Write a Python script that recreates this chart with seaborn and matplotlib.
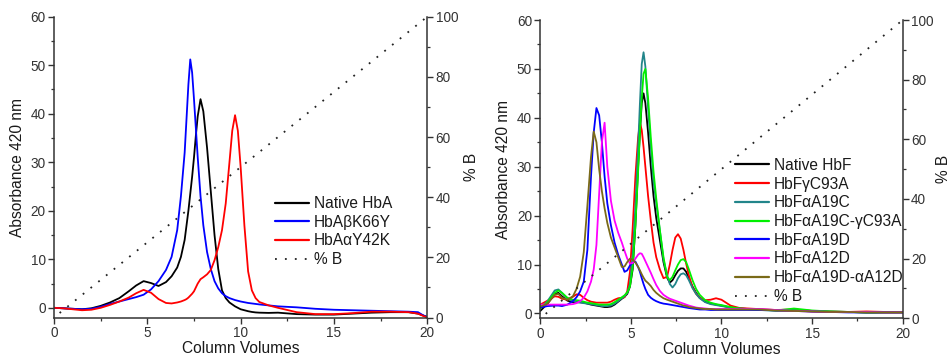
import numpy as np
import pandas as pd
import matplotlib
matplotlib.use("Agg")
import matplotlib.pyplot as plt
from matplotlib.ticker import MultipleLocator
from matplotlib.lines import Line2D
import seaborn as sns

# ---------------- data: left panel (HbA) ----------------
cv_left = [0, 0.5, 1, 1.5, 2, 2.5, 3, 3.5, 4, 4.4,
           4.8, 5.2, 5.6, 6, 6.3, 6.6, 6.8, 7.0, 7.1, 7.2,
           7.3, 7.4, 7.5, 7.6, 7.7, 7.85, 8.0, 8.2, 8.4, 8.6,
           8.8, 9.0, 9.2, 9.4, 9.55, 9.7, 9.85, 10.0, 10.2, 10.4,
           10.6, 10.8, 11, 11.5, 12, 13, 14, 15, 16, 17,
           18, 19, 19.5, 19.8, 20]
native_hba = [0, -0.1, -0.2, -0.3, -0.1, 0.4, 1.1, 2.0, 3.4, 4.6,
              5.5, 5.1, 4.5, 5.3, 6.5, 8.3, 10.5, 14, 17, 20,
              23.5, 27, 31, 35.5, 39.5, 43, 40.5, 33, 24, 15,
              8, 3.6, 2.0, 1.1, 0.7, 0.3, 0, -0.3, -0.5, -0.7,
              -0.85, -0.95, -1.0, -1.05, -1.0, -1.3, -1.4, -1.4, -1.2, -1.0,
              -0.9, -0.9, -1.2, -1.6, -1.9]
hba_bk66y = [0, -0.1, -0.2, -0.3, -0.2, 0.2, 0.8, 1.3, 1.8, 2.2,
             2.7, 3.8, 5.5, 7.8, 10.5, 16, 23, 32, 39, 46,
             51.2, 48.5, 43, 37, 31, 23, 17, 11.5, 8, 5.5,
             4.0, 3.0, 2.4, 2.0, 1.8, 1.6, 1.45, 1.3, 1.15, 1.0,
             0.9, 0.8, 0.7, 0.5, 0.3, 0.1, -0.2, -0.4, -0.5, -0.6,
             -0.7, -0.8, -0.9, -1.6, -1.9]
hba_ay42k = [0, -0.1, -0.3, -0.5, -0.4, 0, 0.6, 1.3, 2.1, 3.0,
             3.7, 3.1, 1.8, 1.0, 0.9, 1.1, 1.3, 1.6, 1.8, 2.1,
             2.5, 2.9, 3.4, 4.2, 5.0, 5.9, 6.3, 6.9, 7.8, 9.8,
             12.5, 16, 21.5, 30, 36.5, 39.7, 36.5, 29, 17, 7.5,
             3.6, 2.0, 1.2, 0.5, 0, -0.9, -1.3, -1.3, -1.1, -0.8,
             -0.8, -0.9, -1.2, -1.7, -2.0]
labels_left = ["Native HbA", "HbAβK66Y", "HbAαY42K"]
colors_left = ["#000000", "#0000FF", "#FF0000"]

# ---------------- data: right panel (HbF) ----------------
cv_right = [0, 0.4, 0.8, 1.0, 1.2, 1.5, 1.8, 2.0, 2.2, 2.4,
            2.6, 2.8, 2.95, 3.1, 3.25, 3.4, 3.55, 3.7, 3.9, 4.1,
            4.3, 4.5, 4.65, 4.8, 4.95, 5.1, 5.25, 5.4, 5.5, 5.6,
            5.7, 5.8, 5.95, 6.1, 6.25, 6.4, 6.6, 6.8, 7.0, 7.15,
            7.3, 7.45, 7.6, 7.75, 7.9, 8.05, 8.2, 8.4, 8.6, 8.8,
            9.1, 9.4, 9.7, 10.0, 10.5, 11, 12, 13, 14, 15,
            16, 17, 18, 19, 20]
native_hbf = [0.5, 2.0, 4.0, 4.2, 3.5, 2.6, 2.3, 2.3, 2.3, 2.2,
              2.0, 1.8, 1.7, 1.6, 1.5, 1.4, 1.3, 1.3, 1.4, 1.8,
              2.4, 3.0, 3.4, 4.0, 5.5, 9, 18, 30, 37, 43,
              45, 43, 37, 30, 24, 19.5, 15, 10.5, 7.3, 6.3,
              6.8, 7.8, 8.7, 9.2, 9.2, 8.5, 7.2, 5.5, 4.2, 3.2,
              2.4, 2.0, 1.8, 1.6, 1.2, 1.0, 0.8, 0.6, 0.6, 0.4,
              0.3, 0.3, 0.2, 0.2, 0.2]
hbf_gc93a = [1.8, 2.6, 3.5, 3.4, 3.0, 2.8, 3.4, 3.9, 3.8, 3.2,
             2.7, 2.4, 2.3, 2.2, 2.2, 2.2, 2.2, 2.2, 2.4, 2.8,
             3.1, 3.2, 3.3, 4.5, 8.5, 17.5, 28, 36, 39, 37.5,
             34, 30, 24, 19, 14.5, 11.5, 9.0, 7.2, 7.5, 10,
             13, 15.5, 16.2, 15.3, 13, 10.2, 7.8, 5.3, 4.0, 3.2,
             2.7, 2.8, 3.1, 2.8, 1.6, 1.1, 0.9, 0.7, 0.8, 0.5,
             0.4, 0.3, 0.4, 0.3, 0.3]
hbf_aa19c = [1.0, 2.5, 4.7, 4.9, 4.2, 3.0, 2.5, 2.3, 2.2, 2.1,
             2.0, 1.9, 1.8, 1.7, 1.6, 1.5, 1.5, 1.5, 1.6, 2.0,
             2.5, 3.1, 3.5, 4.2, 6.0, 12, 22, 34, 43, 51,
             53.4, 50.5, 42, 34, 27, 22.5, 17, 11, 7.8, 6.0,
             5.3, 6.0, 7.2, 8.0, 8.2, 7.8, 6.8, 5.2, 4.0, 3.1,
             2.3, 1.9, 1.7, 1.5, 1.2, 1.0, 0.8, 0.7, 0.7, 0.5,
             0.4, 0.3, 0.2, 0.2, 0.2]
hbf_aa19c_gc93a = [1.0, 2.3, 4.2, 4.7, 4.2, 3.2, 2.8, 2.7, 2.6, 2.4,
                   2.2, 2.1, 2.0, 1.9, 1.8, 1.8, 1.8, 1.8, 1.9, 2.3,
                   2.8, 3.3, 3.7, 4.3, 5.5, 9.5, 18, 29, 37, 44,
                   49, 50, 44, 36, 29, 23.5, 17, 11.5, 7.5, 6.8,
                   7.5, 8.8, 10.0, 10.9, 11.1, 10.5, 9.0, 6.8, 5.0, 3.8,
                   2.7, 2.2, 1.9, 1.7, 1.3, 1.0, 0.7, 0.6, 1.0, 0.6,
                   0.4, 0.3, 0.2, 0.2, 0.2]
hbf_aa19d = [1.2, 1.5, 1.6, 1.6, 1.5, 1.8, 2.5, 3.3, 4.5, 6.5,
             13, 28, 37, 42, 40.5, 35, 28, 22.5, 18, 14.5,
             12, 10, 8.5, 8.8, 9.8, 10.4, 10.6, 9.5, 8.5, 7.2,
             6.0, 5.0, 3.8, 3.2, 2.8, 2.5, 2.2, 2.0, 1.9, 1.8,
             1.7, 1.6, 1.5, 1.4, 1.3, 1.2, 1.1, 1.0, 0.9, 0.8,
             0.8, 0.7, 0.7, 0.7, 0.7, 0.7, 0.7, 0.6, 0.5, 0.4,
             0.3, 0.2, 0.2, 0.2, 0.2]
hbf_aa12d = [1.8, 1.8, 1.8, 1.8, 1.8, 1.8, 1.9, 2.1, 2.5, 3.2,
             4.5, 6.5, 9, 14, 24.5, 35, 39, 30, 23, 19,
             16.5, 14.5, 12.8, 11.2, 10.2, 10.3, 11.2, 12, 12.3, 12.2,
             11.5, 10.7, 9.5, 8.3, 7.0, 5.8, 4.6, 3.8, 3.3, 3.0,
             2.8, 2.6, 2.4, 2.2, 2.0, 1.8, 1.6, 1.4, 1.2, 1.1,
             1.0, 0.9, 0.9, 0.9, 0.9, 0.9, 0.9, 0.7, 0.5, 0.4,
             0.3, 0.3, 0.3, 0.2, 0.2]
hbf_aa19d_aa12d = [1.4, 2.0, 3.8, 4.0, 3.2, 2.8, 3.5, 5.0, 7.5, 12.5,
                   22, 32, 37.2, 35, 29.5, 25, 21.5, 18.5, 15.5, 13.5,
                   11.5, 9.5, 9.6, 10.5, 11.2, 11.0, 10.4, 9.5, 8.8, 8.0,
                   7.3, 6.7, 6.2, 5.6, 4.8, 4.2, 3.6, 3.1, 2.8, 2.6,
                   2.4, 2.2, 2.0, 1.8, 1.6, 1.5, 1.3, 1.2, 1.1, 1.0,
                   0.9, 0.9, 0.8, 0.8, 0.8, 0.8, 0.8, 0.6, 0.5, 0.4,
                   0.3, 0.3, 0.2, 0.2, 0.2]
labels_right = ["Native HbF", "HbFγC93A", "HbFαA19C", "HbFαA19C-γC93A",
                "HbFαA19D", "HbFαA12D", "HbFαA19D-αA12D"]
colors_right = ["#000000", "#FF0000", "#22858A", "#00F000",
                "#0000FF", "#FF00FF", "#7A6A18"]

# % B gradient (right axis)
pctb_cv = [0.3, 20]
pctb_val = [1.5, 100]

# ---------------- build long tables ----------------
df_left = pd.concat([
    pd.DataFrame({"cv": cv_left, "abs": y, "sample": lab})
    for y, lab in zip([native_hba, hba_bk66y, hba_ay42k], labels_left)
], ignore_index=True)
df_right = pd.concat([
    pd.DataFrame({"cv": cv_right, "abs": y, "sample": lab})
    for y, lab in zip([native_hbf, hbf_gc93a, hbf_aa19c, hbf_aa19c_gc93a,
                       hbf_aa19d, hbf_aa12d, hbf_aa19d_aa12d], labels_right)
], ignore_index=True)
df_pct = pd.DataFrame({"cv": pctb_cv, "pct": pctb_val})

sns.set_style("ticks")
plt.rcParams["font.family"] = ["Liberation Sans", "DejaVu Sans"]
plt.rcParams["axes.edgecolor"] = "#333333"
plt.rcParams["xtick.color"] = "#333333"
plt.rcParams["ytick.color"] = "#333333"
plt.rcParams["text.color"] = "#1a1a1a"
plt.rcParams["axes.labelcolor"] = "#1a1a1a"

fig = plt.figure(figsize=(9.51, 3.56), dpi=100)

TICK_FS = 9.8
LAB_FS = 11.2
LEG_FS = 11.2


def style_panel(ax, ax2, ymin, pct_pad):
    ax.set_xlim(0, 20)
    ax.set_ylim(ymin, 60)
    ax2.set_ylim(0, 100)
    ax.xaxis.set_major_locator(MultipleLocator(5))
    ax.xaxis.set_minor_locator(MultipleLocator(2.5))
    ax.yaxis.set_major_locator(MultipleLocator(10))
    ax.yaxis.set_minor_locator(MultipleLocator(5))
    ax2.yaxis.set_major_locator(MultipleLocator(20))
    ax2.yaxis.set_minor_locator(MultipleLocator(10))
    for a in (ax, ax2):
        a.spines["top"].set_visible(False)
        for s in a.spines.values():
            s.set_linewidth(1.1)
        a.tick_params(which="major", direction="out", length=4, width=1.0,
                      labelsize=TICK_FS, pad=2)
        a.tick_params(which="minor", direction="out", length=2.5, width=0.9)
    ax.spines["right"].set_visible(False)
    ax2.spines["left"].set_visible(False)
    ax2.spines["bottom"].set_visible(False)
    ax.set_xlabel("Column Volumes", fontsize=LAB_FS, labelpad=1)
    ax.set_ylabel("Absorbance 420 nm", fontsize=LAB_FS, labelpad=4)
    ax2.set_ylabel("% B", fontsize=LAB_FS, labelpad=pct_pad, rotation=90)


def draw_panel(rect, df, labels, colors, ymin, leg_anchor, pct_pad):
    ax = fig.add_axes(rect)
    ax2 = ax.twinx()
    sns.lineplot(data=df, x="cv", y="abs", hue="sample", hue_order=labels,
                 palette=colors, sort=False, estimator=None, linewidth=1.3,
                 ax=ax, legend=False)
    sns.lineplot(data=df_pct, x="cv", y="pct", color="#222222",
                 linestyle=(0, (1, 4.5)), linewidth=1.3, ax=ax2, legend=False)
    style_panel(ax, ax2, ymin, pct_pad)
    handles = [Line2D([], [], color=c, lw=1.6) for c in colors]
    handles.append(Line2D([], [], color="#222222", lw=1.3, linestyle=(0, (1, 4.5))))
    ax2.legend(handles, labels + ["% B"], loc="upper left",
               bbox_to_anchor=leg_anchor, frameon=False, fontsize=LEG_FS,
               handlelength=2.2, handletextpad=0.3, labelspacing=0.24,
               borderpad=0, borderaxespad=0)
    return ax, ax2


draw_panel([0.0568, 0.1081, 0.3925, 0.845], df_left, labels_left, colors_left,
           -2, (0.592, 0.404), 4)
draw_panel([0.5681, 0.1059, 0.3811, 0.8379], df_right, labels_right, colors_right,
           -1, (0.537, 0.538), 2)

fig.savefig("out.png", dpi=100)
